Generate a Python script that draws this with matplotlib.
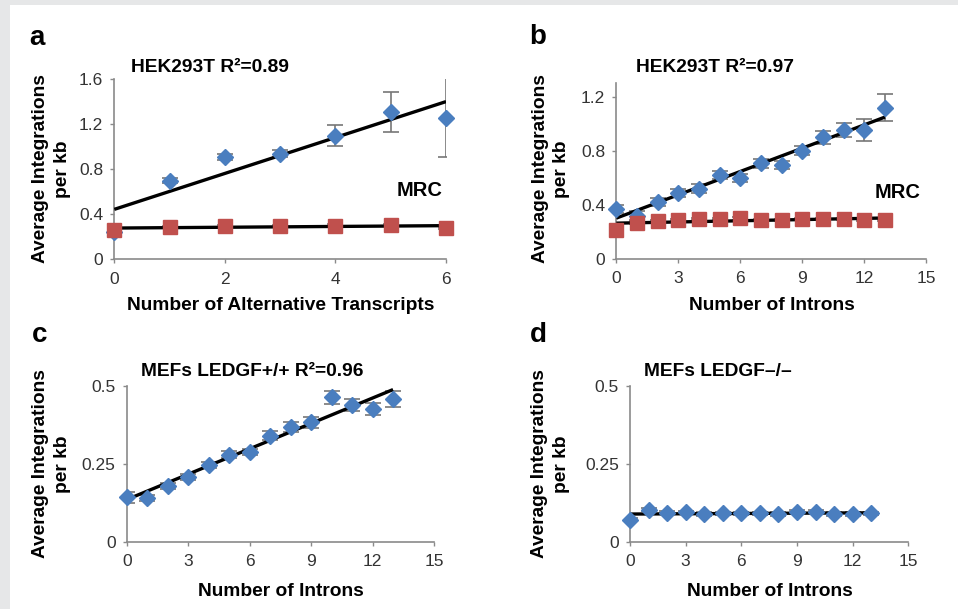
import numpy as np
import matplotlib
matplotlib.use("Agg")
import matplotlib.pyplot as plt

plt.rcParams["font.family"] = ["Liberation Sans", "DejaVu Sans"]

# --------------------------------------------------
# Data
# --------------------------------------------------
transcripts = [0, 1, 2, 3, 4, 5, 6]
a_hek = [0.24, 0.70, 0.91, 0.94, 1.10, 1.31, 1.26]
a_hek_err = [0.02, 0.02, 0.03, 0.035, 0.09, 0.18, 0.35]
a_mrc = [0.26, 0.284, 0.296, 0.296, 0.30, 0.305, 0.278]
a_mrc_err = [0.01, 0.01, 0.01, 0.01, 0.01, 0.01, 0.01]

introns = list(range(14))
b_hek = [0.366, 0.32, 0.418, 0.484, 0.52, 0.62, 0.60, 0.706, 0.694, 0.80, 0.899, 0.953, 0.953, 1.12]
b_hek_err = [0.03, 0.03, 0.03, 0.03, 0.03, 0.03, 0.03, 0.035, 0.03, 0.035, 0.05, 0.05, 0.08, 0.10]
b_mrc = [0.21, 0.267, 0.28, 0.286, 0.294, 0.294, 0.30, 0.286, 0.286, 0.294, 0.294, 0.294, 0.286, 0.286]
b_mrc_err = [0.025, 0.01, 0.01, 0.01, 0.01, 0.01, 0.01, 0.01, 0.01, 0.01, 0.01, 0.01, 0.01, 0.01]

c_mef = [0.142, 0.141, 0.18, 0.209, 0.246, 0.28, 0.289, 0.34, 0.369, 0.383, 0.464, 0.438, 0.426, 0.459]
c_mef_err = [0.018, 0.01, 0.01, 0.01, 0.01, 0.01, 0.01, 0.014, 0.016, 0.017, 0.021, 0.019, 0.02, 0.025]

d_mef = [0.07, 0.102, 0.093, 0.094, 0.089, 0.091, 0.091, 0.091, 0.089, 0.096, 0.096, 0.089, 0.089, 0.091]
d_mef_err = [0.005] * 14

BLUE = "#4A7EBF"
RED = "#C0504D"
AXC = "#8a8a8a"
BOLD = 13.8

fig = plt.figure(figsize=(9.58, 6.09), dpi=100)
fig.patch.set_facecolor("white")

# gray frame strips on top and left
fig.add_artist(plt.Rectangle((0, 1 - 5 / 609), 1, 5 / 609, transform=fig.transFigure,
                             color="#e6e7e8", lw=0))
fig.add_artist(plt.Rectangle((0, 0), 10 / 958, 1, transform=fig.transFigure,
                             color="#e6e7e8", lw=0))


def ftext(px, py, s, **kw):
    # place text by pixel position (from top-left)
    kw.setdefault("ha", "center")
    kw.setdefault("va", "center")
    kw.setdefault("fontweight", "bold")
    fig.text(px / 958, 1 - py / 609, s, **kw)


def make_ax(left, right, top, bottom, ylab_xy):
    ax = fig.add_axes([left / 958, 1 - bottom / 609, (right - left) / 958, (bottom - top) / 609])
    for s in ["top", "right"]:
        ax.spines[s].set_visible(False)
    for s in ["left", "bottom"]:
        ax.spines[s].set_color(AXC)
        ax.spines[s].set_linewidth(1.2)
    ax.tick_params(direction="out", length=3, width=1.0, color=AXC,
                   labelsize=12.5, labelcolor="#333333")
    ax.tick_params(axis="y", pad=5)
    ax.tick_params(axis="x", pad=6)
    ftext(*ylab_xy, "Average Integrations\nper kb", rotation=90, fontsize=BOLD,
          linespacing=1.35, multialignment="center")
    return ax


def series(ax, x, y, err, color, marker, ms, z):
    ax.errorbar(x, y, yerr=err, fmt="none", ecolor="#777777", elinewidth=1.2,
                capsize=5.5, capthick=1.2, zorder=z)
    ax.plot(x, y, linestyle="none", marker=marker, ms=ms, color=color,
            markeredgecolor=color, zorder=z + 2, clip_on=False)


def trend(ax, x, y, z):
    k, b0 = np.polyfit(x, y, 1)
    xs = np.array([min(x), max(x)])
    ax.plot(xs, k * xs + b0, color="black", lw=2.4, zorder=z, solid_capstyle="butt")


# ---------------- panel a ----------------
ax = make_ax(114.3, 446, 79.3, 259.3, (51.5, 169))
series(ax, transcripts, a_hek, a_hek_err, BLUE, "D", 8.5, 2)
trend(ax, transcripts, a_hek, 3)
series(ax, transcripts, a_mrc, a_mrc_err, RED, "s", 9.8, 5)
trend(ax, transcripts, a_mrc, 6)
ax.set_xlim(0, 6)
ax.set_ylim(0, 1.6)
ax.set_xticks([0, 2, 4, 6])
ax.set_yticks([0, 0.4, 0.8, 1.2, 1.6])
ax.set_yticklabels(["0", "0.4", "0.8", "1.2", "1.6"])
ftext(280.8, 305, "Number of Alternative Transcripts", fontsize=BOLD)
ftext(210, 67.7, "HEK293T R\u00b2=0.89", fontsize=BOLD)
ftext(420, 190.7, "MRC", fontsize=14.5)

# ---------------- panel b ----------------
ax = make_ax(616.3, 926.3, 83.3, 258.7, (551.2, 169))
series(ax, introns, b_hek, b_hek_err, BLUE, "D", 8.5, 2)
trend(ax, introns, b_hek, 3)
series(ax, introns, b_mrc, b_mrc_err, RED, "s", 9.8, 5)
trend(ax, introns, b_mrc, 6)
ax.set_xlim(0, 15)
ax.set_ylim(0, 1.3)
ax.set_xticks([0, 3, 6, 9, 12, 15])
ax.set_yticks([0, 0.4, 0.8, 1.2])
ax.set_yticklabels(["0", "0.4", "0.8", "1.2"])
ftext(771.5, 305, "Number of Introns", fontsize=BOLD)
ftext(714.8, 67.7, "HEK293T R\u00b2=0.97", fontsize=BOLD)
ftext(898, 192.3, "MRC", fontsize=14.5)

# ---------------- panel c ----------------
ax = make_ax(126.7, 434, 386, 541.7, (51.5, 464))
series(ax, introns, c_mef, c_mef_err, BLUE, "D", 8.5, 2)
trend(ax, introns, c_mef, 3)
ax.set_xlim(0, 15)
ax.set_ylim(0, 0.5)
ax.set_xticks([0, 3, 6, 9, 12, 15])
ax.set_yticks([0, 0.25, 0.5])
ax.set_yticklabels(["0", "0.25", "0.5"])
ftext(280.8, 591.7, "Number of Introns", fontsize=BOLD)
ftext(252.5, 371, "MEFs LEDGF+/+ R\u00b2=0.96", fontsize=BOLD)

# ---------------- panel d ----------------
ax = make_ax(630, 908.3, 386, 541.7, (550.5, 464))
series(ax, introns, d_mef, d_mef_err, BLUE, "D", 8.5, 2)
trend(ax, introns, d_mef, 3)
ax.set_xlim(0, 15)
ax.set_ylim(0, 0.5)
ax.set_xticks([0, 3, 6, 9, 12, 15])
ax.set_yticks([0, 0.25, 0.5])
ax.set_yticklabels(["0", "0.25", "0.5"])
ftext(769.5, 591.7, "Number of Introns", fontsize=BOLD)
ftext(718, 371, "MEFs LEDGF\u2013/\u2013", fontsize=BOLD)

# panel letters
for letter, px, py in [("a", 37, 38), ("b", 538, 37), ("c", 40, 335), ("d", 538, 335)]:
    ftext(px, py, letter, fontsize=20)

fig.savefig("out.png", dpi=100)
